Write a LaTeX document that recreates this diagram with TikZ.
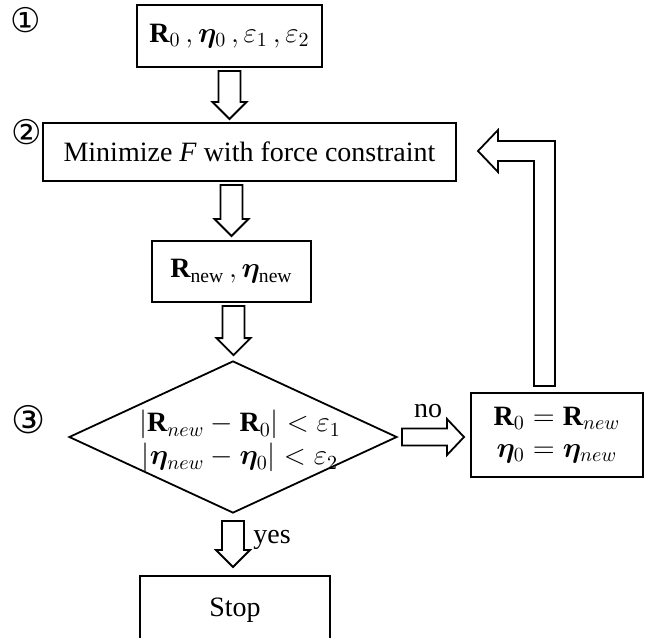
\documentclass[tikz,border=0pt]{standalone}
\usepackage{amsmath}
\usepackage{bm}
\usepackage{fontspec}
\setmainfont{Liberation Serif}
\newfontfamily\circfont{DejaVu Sans}
\usetikzlibrary{shapes.geometric,calc}
\tikzset{
  box/.style={draw, line width=1pt, rectangle, inner sep=0pt, font=\fontsize{14}{17}\selectfont},
  blockarrow/.style={draw, line width=0.9pt, fill=white, line join=miter},
  circnum/.style={inner sep=0pt, font=\circfont\fontsize{17}{17}\selectfont},
  lbl/.style={inner sep=0pt, font=\fontsize{14}{14}\selectfont},
}
\newcommand\hollowdown[2]{%
  \path[blockarrow] let \p1=#1, \p2=#2 in
    (\x1-5.5pt,\y1) -- (\x1-5.5pt,\y2+8.5pt) -- (\x1-8.5pt,\y2+8.5pt) -- (\x1,\y2)
    -- (\x1+8.5pt,\y2+8.5pt) -- (\x1+5.5pt,\y2+8.5pt) -- (\x1+5.5pt,\y1) -- cycle;}
\newcommand\hollowright[2]{%
  \path[blockarrow] let \p1=#1, \p2=#2 in
    (\x1,\y1+4.25pt) -- (\x2-8.5pt,\y1+4.25pt) -- (\x2-8.5pt,\y1+9pt) -- (\x2,\y1)
    -- (\x2-8.5pt,\y1-9pt) -- (\x2-8.5pt,\y1-4.25pt) -- (\x1,\y1-4.25pt) -- cycle;}
\begin{document}
\begin{tikzpicture}[x=0.5pt,y=-0.5pt]
\useasboundingbox (0,0) rectangle (656,637);
\clip (0,0) rectangle (656,637);

\node[circnum] (c1) at (26,20) {①};
\node[circnum] (c2) at (27,132) {②};
\node[circnum, font=\circfont\fontsize{19}{19}\selectfont] (c3) at (29,420) {③};

\node[box, minimum width=92.5pt, minimum height=31pt] (b1) at (229.5,36)
  {$\mathbf{R}_0\,,\bm{\eta}_0\,,\varepsilon_1\,,\varepsilon_2$};
\node[box, minimum width=206.5pt, minimum height=29pt] (b2) at (249.5,152)
  {Minimize \textit{F} with force constraint};
\node[box, minimum width=79.5pt, minimum height=30.5pt] (b3) at (231.5,271.5)
  {$\mathbf{R}_{\mathrm{new}}\,,\bm{\eta}_{\mathrm{new}}$};
\node[draw, line width=0.9pt, diamond, inner sep=0pt, minimum width=164pt, minimum height=76pt] (dec) at (233,437) {};
\node[lbl, align=center, font=\fontsize{14}{16.5}\selectfont] (dectext) at (240,441)
  {$|\mathbf{R}_{new}-\mathbf{R}_0|<\varepsilon_1$\\ $|\bm{\eta}_{new}-\bm{\eta}_0|<\varepsilon_2$};
\node[box, minimum width=86pt, minimum height=42pt, align=center, font=\fontsize{14}{16}\selectfont] (b4) at (557,435)
  {$\mathbf{R}_0=\mathbf{R}_{new}$\\ $\bm{\eta}_0=\bm{\eta}_{new}$};
\node[box, minimum width=95pt, minimum height=34pt] (stop) at (235,610) {Stop};

\hollowdown{($(b1.south)+(0,3)$)}{($(b2.north |- b2.north)+(0,-3)$)}
\hollowdown{($(b3.north |- b2.south)+(0,3)$)}{($(b3.north)+(0,-4)$)}
\hollowdown{($(b3.south)+(2,3)$)}{($(dec.north)+(0,-5)$)}
\hollowdown{($(dec.south)+(0,7)$)}{($(stop.north)+(0,-8)$)}
\hollowright{($(dec.east)+(4,0)$)}{($(b4.west)+(-6,0)$)}

\path[blockarrow] let \p1=($(b4.north)+(-12.5,-6)$), \p2=($(b2.east)+(21,-1)$) in
  (\x1+5.25pt,\y1) -- (\x1+5.25pt,\y2+5pt) -- (\x2+10pt,\y2+5pt) -- (\x2+10pt,\y2+10.5pt)
  -- (\x2,\y2) -- (\x2+10pt,\y2-10.5pt) -- (\x2+10pt,\y2-5pt) -- (\x1-5.25pt,\y2-5pt)
  -- (\x1-5.25pt,\y1) -- cycle;

\node[lbl] (no) at (428,411) {no};
\node[lbl] (yes) at (272,540) {yes};
\end{tikzpicture}
\end{document}
